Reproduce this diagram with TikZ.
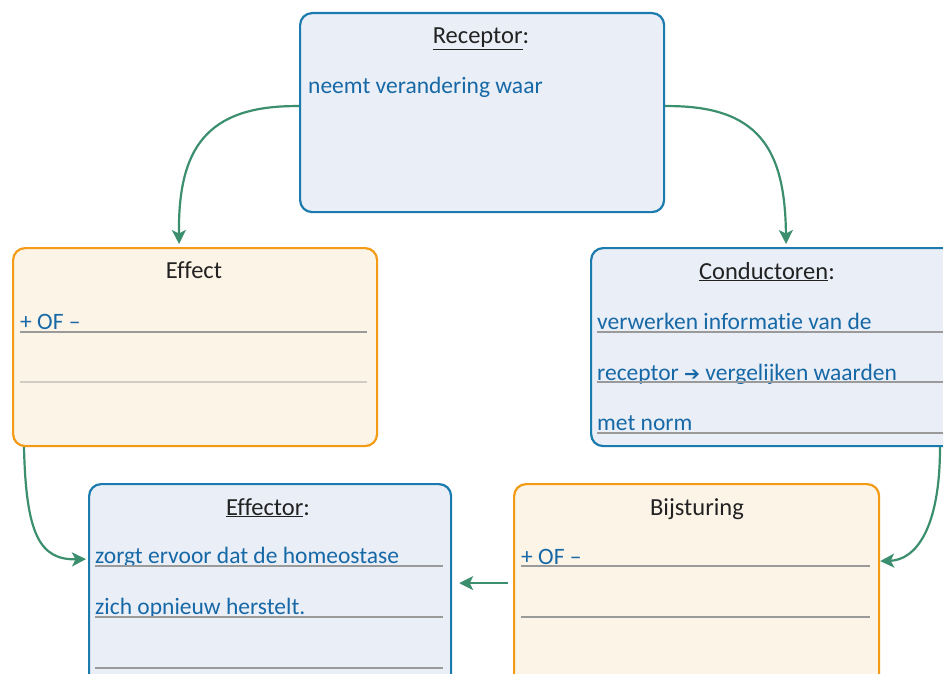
\documentclass[tikz,border=0pt]{standalone}
\usepackage{fontspec}
\setmainfont{Carlito}[Ligatures=NoCommon]
\newfontfamily\symf{DejaVu Sans}
\usetikzlibrary{arrows.meta}
\definecolor{bbord}{HTML}{1B7BAE}
\definecolor{bfill}{HTML}{EAEFF7}
\definecolor{oborder}{HTML}{F49B16}
\definecolor{ofill}{HTML}{FDF4E8}
\definecolor{btext}{HTML}{1668A6}
\definecolor{ttext}{HTML}{222222}
\definecolor{arr}{HTML}{3C8F6E}
\definecolor{rulec}{HTML}{9A9A9A}
\definecolor{rulelight}{HTML}{D2CCC6}
\begin{document}
\begin{tikzpicture}[x=1pt,y=-1pt,
  bluebox/.style={draw=bbord, fill=bfill, line width=2.2pt, rounded corners=12pt, anchor=north west, inner sep=0pt},
  orangebox/.style={draw=oborder, fill=ofill, line width=2.2pt, rounded corners=12pt, anchor=north west, inner sep=0pt},
  title/.style={anchor=base, text=ttext, font=\fontsize{24.5}{28}\selectfont, inner sep=0pt},
  body/.style={anchor=base west, text=btext, font=\fontsize{23.5}{28}\selectfont, inner sep=0pt},
  rl/.style={draw=rulec, line width=1.2pt},
  conn/.style={draw=arr, line width=2.2pt, -{Stealth[length=14pt,width=14pt,inset=3.5pt]}}
]
\useasboundingbox (0,0) rectangle (943,674);
\clip (0,0) rectangle (943,674);
\fill[white] (0,0) rectangle (943,674);

\node[bluebox, minimum width=364pt, minimum height=199pt] (rec) at (299,12) {};
\node[orangebox, minimum width=364pt, minimum height=198pt] (eft) at (12,247) {};
\node[bluebox, minimum width=380pt, minimum height=198pt] (con) at (590,247) {};
\node[bluebox, minimum width=362pt, minimum height=215pt] (efr) at (88,483) {};
\node[orangebox, minimum width=365pt, minimum height=215pt] (bij) at (513,483) {};

\node[title] (t1) at (481,44) {\underline{Receptor}:};
\node[title] (t2) at (194,278) {Effect};
\node[title] (t3) at (767,279) {\underline{Conductoren}:};
\node[title] (t4) at (268,515) {\underline{Effector}:};
\node[title] (t5) at (697,515) {Bijsturing};

\node[body] (r1) at (308,94) {neemt verandering waar};
\node[body] (e1) at (20,329) {+ OF –};
\node[body] (c1) at (597,329) {verwerken informatie van de};
\node[body] (c2) at (597,380) {receptor {\symf\fontsize{19}{19}\selectfont ➔} vergelijken waarden};
\node[body] (c3) at (597,430) {met norm};
\node[body] (f1) at (95,563) {zorgt ervoor dat de homeostase};
\node[body] (f2) at (95,614) {zich opnieuw herstelt.};
\node[body] (b1) at (521,564) {+ OF –};

\draw[rl] (20,332) -- (367,332);
\draw[rl, draw=rulelight] (20,382) -- (367,382);
\draw[rl] (597,332) -- (950,332);
\draw[rl] (597,382) -- (950,382);
\draw[rl] (597,433) -- (950,433);
\draw[rl] (95,566) -- (443,566);
\draw[rl] (95,617) -- (443,617);
\draw[rl] (95,668) -- (443,668);
\draw[rl] (521,566) -- (870,566);
\draw[rl] (521,617) -- (870,617);

\draw[conn, shorten >=3pt] ([yshift=6.5pt]rec.west) .. controls (205,105) and (178,150) .. ([xshift=-16pt]eft.north);
\draw[conn, shorten >=3pt] ([yshift=6.5pt]rec.east) .. controls (760,105) and (785,150) .. ([xshift=5pt]con.north);
\draw[conn, shorten >=2pt] ([xshift=12pt]eft.south west) .. controls (26,535) and (40,560) .. ([yshift=32.5pt]efr.west);
\draw[conn] ([xshift=350pt]con.south west) .. controls (940,530) and (915,560) .. ([yshift=30.5pt]bij.east);
\draw[conn, shorten >=7pt, shorten <=5pt] ([yshift=8.5pt]bij.west) -- ([yshift=8.5pt]efr.east);
\end{tikzpicture}
\end{document}
